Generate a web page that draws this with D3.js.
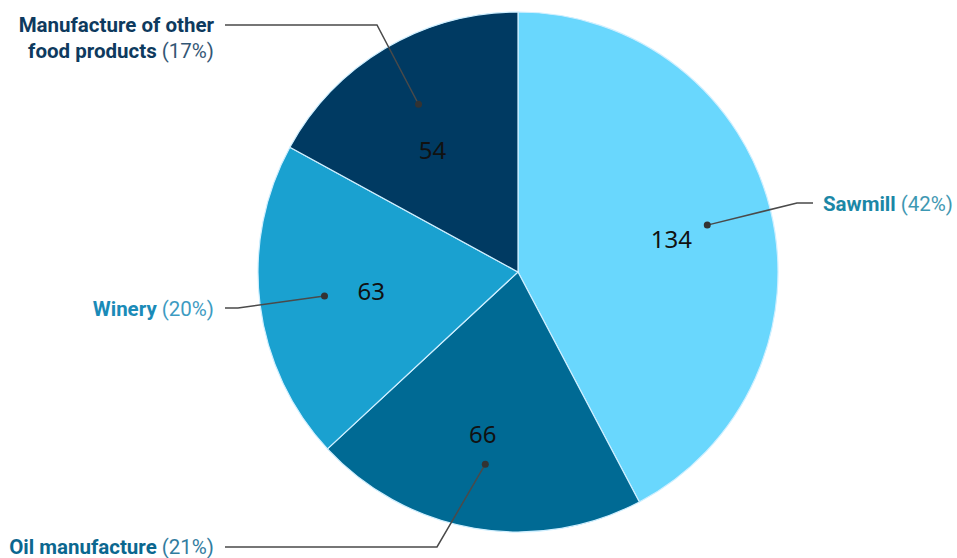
<!DOCTYPE html>
<html>
<head>
<meta charset="utf-8">
<script src="https://cdn.jsdelivr.net/npm/d3@7"></script>
<style>
  body { margin: 0; background: #fff; }
  #chart { width: 957px; height: 558px; }
</style>
</head>
<body>
<div id="chart"></div>
<script>
// data
var categories = ["Sawmill", "Oil manufacture", "Winery", "Manufacture of other food products"]
var values = [134, 66, 63, 54]
var percents = ["42%", "21%", "20%", "17%"]
var colors = ["#69d7fd", "#006a94", "#1aa1d0", "#003a62"]
var label_colors = ["#1b87a6", "#0b678f", "#1a8bb8", "#0e3a5e"]

// label layout (elbow point, end of leader, text anchor, nudge of the value label)
var label_layout = [
  { elbow: [797, 203], end: [813, 203], tx: 823, ty: 211, anchor: "start", nudge: [2, 5], lines: [["Sawmill", 0]] },
  { elbow: [437, 547], end: [225, 547], tx: 214, ty: 554, anchor: "end", nudge: [-9, 9], lines: [["Oil manufacture", 0]] },
  { elbow: [238, 308], end: [225, 308], tx: 214, ty: 316, anchor: "end", nudge: [8, 0], lines: [["Winery", 0]] },
  { elbow: [377, 25], end: [225, 25], tx: 214, ty: 32, anchor: "end", nudge: [-6, 13], lines: [["Manufacture of other", 0], ["food products", 26]] }
]

function load_pie(){
  var width = 957, height = 558
  var cx = 518, cy = 272, radius = 260

  var svg = d3.select("#chart").append("svg")
      .attr("width", width)
      .attr("height", height)

  var pie = d3.pie().sort(null).value(function(d){ return d })
  var arcs = pie(values)

  var arc = d3.arc().innerRadius(0).outerRadius(radius)
  var num_arc = d3.arc().innerRadius(radius * 0.6).outerRadius(radius * 0.6)
  var dot_arc = d3.arc().innerRadius(radius * 0.75).outerRadius(radius * 0.75)

  var g = svg.append("g")
      .attr("transform", "translate(" + cx + "," + cy + ")")

  g.selectAll("path.slice")
      .data(arcs)
      .enter().append("path")
      .attr("class", "slice")
      .attr("d", arc)
      .attr("fill", function(d, i){ return colors[i] })
      .attr("stroke", "#cfefff")
      .attr("stroke-width", 1.2)

  g.selectAll("text.num")
      .data(arcs)
      .enter().append("text")
      .attr("class", "num")
      .attr("transform", function(d, i){
        var c = num_arc.centroid(d)
        var n = label_layout[i].nudge
        return "translate(" + (c[0] + n[0]) + "," + (c[1] + n[1]) + ")"
      })
      .attr("text-anchor", "middle")
      .attr("dy", "0.35em")
      .style("font-family", "'Noto Sans', sans-serif")
      .style("font-size", "24px")
      .style("font-weight", 400)
      .style("fill", "#111")
      .text(function(d){ return d.value })

  // leader lines
  arcs.forEach(function(d, i){
    var p = dot_arc.centroid(d)
    var lay = label_layout[i]
    var pts = [[p[0] + cx, p[1] + cy], lay.elbow, lay.end]
    svg.append("path")
        .attr("d", d3.line()(pts))
        .attr("fill", "none")
        .attr("stroke", "#4a4a4a")
        .attr("stroke-width", 1.5)
    svg.append("circle")
        .attr("cx", pts[0][0])
        .attr("cy", pts[0][1])
        .attr("r", 3.5)
        .attr("fill", "#333")

    var t = svg.append("text")
        .attr("x", lay.tx)
        .attr("y", lay.ty)
        .attr("text-anchor", lay.anchor)
        .style("font-family", "Roboto, sans-serif")
        .style("font-size", "20.5px")
        .style("fill", label_colors[i])
    lay.lines.forEach(function(l, j){
      var ts = t.append("tspan")
          .attr("x", lay.tx)
          .attr("dy", l[1])
      ts.append("tspan").style("font-weight", 700).text(l[0])
      if (j == lay.lines.length - 1) {
        ts.append("tspan").style("font-weight", 400).style("opacity", 0.85).text(" (" + percents[i] + ")")
      }
    })
  })
}

load_pie()
</script>
</body>
</html>
